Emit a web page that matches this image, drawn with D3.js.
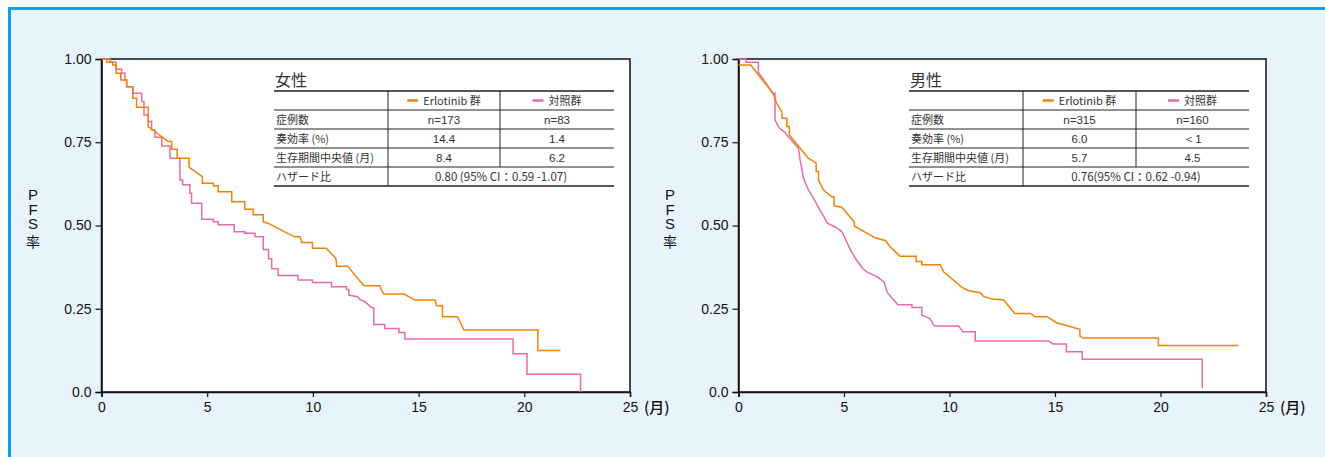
<!DOCTYPE html>
<html><head><meta charset="utf-8">
<script src="https://cdn.jsdelivr.net/npm/d3@7"></script>
<style>
html,body{margin:0;padding:0;background:#fff;}
svg{display:block;}
</style></head>
<body>
<svg id="chart" width="1325" height="457"></svg>
<script>
// ---- data (time in months, PFS rate) : Kaplan-Meier vertices ----
const femaleErlotinib = [[0,1],[0.25,1],[0.25,0.991],[0.53,0.991],[0.53,0.982],[0.69,0.982],[0.69,0.957],[0.91,0.957],[0.91,0.937],[1.19,0.937],[1.19,0.917],[1.48,0.917],[1.48,0.882],[1.66,0.882],[1.66,0.855],[2.21,0.855],[2.21,0.797],[3.16,0.752],[3.32,0.752],[3.32,0.729],[3.58,0.729],[3.58,0.702],[4.14,0.702],[4.14,0.675],[4.77,0.647],[4.77,0.627],[5.29,0.627],[5.29,0.619],[5.52,0.619],[5.52,0.601],[6.16,0.601],[6.16,0.571],[6.78,0.571],[6.78,0.549],[7.18,0.549],[7.18,0.532],[7.65,0.532],[7.65,0.511],[7.95,0.505],[8.76,0.478],[9.15,0.466],[9.39,0.466],[9.47,0.449],[9.98,0.449],[9.98,0.432],[10.63,0.432],[11.09,0.401],[11.12,0.378],[11.64,0.378],[12.41,0.319],[13.17,0.319],[13.25,0.305],[13.36,0.294],[14.32,0.294],[14.82,0.276],[15.78,0.276],[15.85,0.259],[16.13,0.259],[16.13,0.226],[16.84,0.226],[17.15,0.186],[20.64,0.186],[20.64,0.125],[21.71,0.125]];
const femaleControl = [[0,1],[0.4,1],[0.4,0.99],[0.69,0.99],[0.69,0.969],[0.95,0.969],[0.95,0.957],[1.11,0.957],[1.11,0.937],[1.19,0.937],[1.19,0.917],[1.5,0.917],[1.5,0.897],[1.9,0.897],[1.9,0.872],[2.01,0.872],[2.01,0.832],[2.21,0.832],[2.21,0.812],[2.37,0.812],[2.37,0.787],[2.53,0.787],[2.53,0.765],[2.85,0.765],[2.85,0.739],[3.24,0.739],[3.24,0.702],[3.71,0.702],[3.71,0.637],[3.84,0.637],[3.84,0.622],[4.18,0.622],[4.18,0.597],[4.26,0.597],[4.26,0.567],[4.74,0.567],[4.74,0.519],[5.29,0.519],[5.29,0.511],[5.52,0.511],[5.52,0.502],[6.28,0.502],[6.28,0.481],[6.78,0.481],[6.78,0.477],[7.26,0.477],[7.26,0.466],[7.65,0.466],[7.65,0.428],[7.9,0.428],[7.9,0.40],[8.05,0.40],[8.05,0.37],[8.35,0.37],[8.35,0.35],[9.3,0.35],[9.3,0.336],[9.98,0.336],[9.98,0.329],[10.88,0.329],[10.88,0.316],[11.59,0.316],[11.59,0.308],[11.7,0.308],[11.7,0.291],[12.1,0.286],[12.22,0.278],[12.46,0.271],[12.78,0.253],[12.88,0.253],[12.88,0.203],[13.4,0.203],[13.4,0.191],[14.07,0.191],[14.07,0.179],[14.35,0.179],[14.35,0.159],[19.47,0.159],[19.47,0.115],[20.13,0.115],[20.13,0.053],[22.66,0.053],[22.66,0.0]];
const maleErlotinib = [[0,0.982],[0.58,0.982],[1.63,0.897],[1.81,0.867],[2.05,0.842],[2.07,0.822],[2.29,0.822],[2.29,0.797],[2.41,0.797],[2.41,0.772],[3.31,0.702],[3.68,0.687],[3.68,0.662],[3.79,0.662],[3.79,0.637],[4.02,0.607],[4.42,0.586],[4.53,0.586],[4.53,0.559],[4.9,0.555],[5.48,0.511],[5.5,0.498],[6.48,0.463],[6.95,0.455],[7.19,0.436],[7.45,0.42],[7.66,0.408],[8.42,0.408],[8.42,0.392],[8.69,0.392],[8.69,0.382],[9.56,0.382],[9.72,0.361],[10.59,0.314],[10.91,0.304],[11.46,0.298],[11.6,0.288],[12.02,0.279],[12.57,0.276],[13.09,0.236],[13.83,0.236],[14.07,0.226],[14.63,0.226],[15.07,0.208],[16.18,0.188],[16.18,0.168],[16.34,0.162],[19.9,0.162],[19.9,0.14],[23.69,0.14]];
const maleControl = [[0,1],[0.35,1],[0.35,0.99],[0.94,0.99],[0.94,0.96],[1.63,0.897],[1.73,0.897],[1.73,0.817],[1.94,0.792],[2.16,0.782],[2.29,0.772],[2.84,0.732],[2.92,0.697],[3.08,0.642],[3.31,0.607],[3.52,0.586],[3.68,0.567],[3.83,0.549],[4.0,0.532],[4.21,0.507],[4.63,0.494],[4.9,0.481],[5.05,0.462],[5.26,0.432],[5.55,0.40],[5.9,0.37],[6.1,0.36],[6.6,0.345],[6.9,0.33],[7.05,0.30],[7.3,0.28],[7.55,0.262],[8.22,0.262],[8.22,0.254],[8.69,0.254],[8.69,0.231],[9.06,0.221],[9.29,0.198],[10.43,0.198],[10.64,0.181],[11.22,0.181],[11.22,0.153],[14.70,0.153],[14.91,0.144],[15.54,0.144],[15.54,0.121],[16.29,0.121],[16.29,0.098],[21.98,0.098],[21.98,0.011]];

const yTicks = [0, 0.25, 0.5, 0.75, 1];
const yTickLabels = ["0.0", "0.25", "0.50", "0.75", "1.00"];
const xTicks = [0, 5, 10, 15, 20, 25];
const xUnit = "(月)";
const yLabel = ["P", "F", "S", "率"];
const seriesNames = ["Erlotinib 群", "対照群"];
const rowLabels = ["症例数", "奏効率 (%)", "生存期間中央値 (月)", "ハザード比"];
const femaleTitle = "女性";
const femaleCells = [["n=173", "n=83"], ["14.4", "1.4"], ["8.4", "6.2"]];
const femaleHR = "0.80 (95% CI：0.59 -1.07)";
const maleTitle = "男性";
const maleCells = [["n=315", "n=160"], ["6.0", "＜1"], ["5.7", "4.5"]];
const maleHR = "0.76(95% CI：0.62 -0.94)";

// ---- styles ----
const ORANGE = "#f0820a", PINK = "#e96ba6";
const LAT = "'Liberation Sans', Arial, Helvetica, sans-serif";
const JP = "'Noto Sans CJK JP', 'Noto Sans', sans-serif";

const svg = d3.select("#chart");
// panel background with blue border (top and left)
svg.append("rect").attr("x", 9).attr("y", 8).attr("width", 1330).attr("height", 460)
  .attr("fill", "#e8f4fc");
svg.append("line").attr("x1", 8).attr("x2", 1325).attr("y1", 8.5).attr("y2", 8.5)
  .attr("stroke", "#16a0e0").attr("stroke-width", 3);
svg.append("line").attr("x1", 9.5).attr("x2", 9.5).attr("y1", 7).attr("y2", 457)
  .attr("stroke", "#16a0e0").attr("stroke-width", 3);

function panel(cfg) {
  const x = d3.scaleLinear().domain([0, 25]).range([cfg.x0, cfg.x1]);
  const y = d3.scaleLinear().domain([0, 1]).range([392, 59]);
  const g = svg.append("g");
  g.append("rect").attr("x", x(0)).attr("y", y(1)).attr("width", x(25) - x(0)).attr("height", y(0) - y(1))
    .attr("fill", "#fff").attr("stroke", "#111").attr("stroke-width", 1.5);

  // axes
  const ya = g.append("g").attr("transform", `translate(${x(0)},0)`)
    .call(d3.axisLeft(y).tickValues(yTicks).tickSize(6).tickPadding(4)
      .tickFormat((d, i) => yTickLabels[i]));
  ya.select(".domain").attr("stroke", "#111").attr("stroke-width", 1.5);
  ya.selectAll(".tick line").attr("stroke", "#111").attr("stroke-width", 1.2);
  ya.selectAll(".tick text").attr("font-family", LAT).attr("font-size", 14).attr("fill", "#111");
  const xa = g.append("g").attr("transform", `translate(0,${y(0)})`)
    .call(d3.axisBottom(x).tickValues(xTicks).tickSize(5).tickPadding(5).tickFormat(d3.format("d")));
  xa.select(".domain").attr("stroke", "#111").attr("stroke-width", 1.5);
  xa.selectAll(".tick line").attr("stroke", "#111").attr("stroke-width", 1.2);
  xa.selectAll(".tick text").attr("font-family", LAT).attr("font-size", 14).attr("fill", "#111");

  g.append("text").attr("x", x(25) + 14).attr("y", y(0) + 21).attr("font-family", JP)
    .attr("font-size", 15).attr("font-weight", 500).attr("fill", "#111").text(xUnit);

  // y label stacked
  yLabel.forEach((c, i) => {
    g.append("text").attr("x", cfg.ylabX).attr("y", 200 + i * 14.5 + (c === "率" ? 3 : 0))
      .attr("text-anchor", "middle").attr("fill", "#111")
      .attr("font-size", c === "率" ? 14 : 15)
      .attr("font-family", c === "率" ? JP : LAT).text(c);
  });

  // curves
  const line = d3.line().x(d => x(d[0])).y(d => y(d[1]));
  [[cfg.ctrl, PINK], [cfg.erl, ORANGE]].forEach(([data, col]) => {
    g.append("path").datum(data).attr("d", line).attr("fill", "none")
      .attr("stroke", col).attr("stroke-width", 1.5);
  });

  // table
  const t = cfg.table;
  const tg = g.append("g").attr("font-family", JP).attr("fill", "#333");
  tg.append("text").attr("x", t.x0 + 1).attr("y", 86).attr("font-size", 16).attr("fill", "#333").text(cfg.title);
  const rowsY = [91, 110, 129, 148, 167, 186];
  rowsY.forEach((ry, i) => {
    tg.append("line").attr("x1", t.x0).attr("x2", t.x1).attr("y1", ry).attr("y2", ry)
      .attr("stroke", i === 0 ? "#555" : "#222").attr("stroke-width", i === 0 ? 2.2 : (i === 5 ? 1.5 : 1));
  });
  tg.append("line").attr("x1", t.c1).attr("x2", t.c1).attr("y1", 91).attr("y2", 186).attr("stroke", "#222");
  tg.append("line").attr("x1", t.c2).attr("x2", t.c2).attr("y1", 91).attr("y2", 167).attr("stroke", "#222");
  const m1 = (t.c1 + t.c2) / 2, m2 = (t.c2 + t.x1) / 2;
  // header with legend dashes
  [[m1, ORANGE, seriesNames[0]], [m2, PINK, seriesNames[1]]].forEach(([cx, col, name]) => {
    const tmp = tg.append("text").attr("font-size", 11).text(name);
    const w = tmp.node().getComputedTextLength();
    tmp.remove();
    const total = 11 + 5 + w;
    const sx = cx - total / 2;
    tg.append("line").attr("x1", sx).attr("x2", sx + 11).attr("y1", 100.5).attr("y2", 100.5)
      .attr("stroke", col).attr("stroke-width", 2.5);
    tg.append("text").attr("x", sx + 16).attr("y", 104.5).attr("font-size", 11).text(name);
  });
  rowLabels.forEach((lab, i) => {
    tg.append("text").attr("x", t.x0 + 2).attr("y", 123.5 + i * 19).attr("font-size", 11).text(lab);
  });
  cfg.cells.forEach((row, i) => {
    [m1, m2].forEach((cx, j) => {
      tg.append("text").attr("x", cx).attr("y", 123.5 + i * 19).attr("text-anchor", "middle")
        .attr("font-size", 11.5).attr("font-family", LAT).text(row[j]);
    });
  });
  tg.append("text").attr("x", (t.c1 + t.x1) / 2).attr("y", 180.5).attr("text-anchor", "middle")
    .attr("font-size", 11.5).text(cfg.hr);
}

panel({x0: 101.5, x1: 630, ylabX: 33, erl: femaleErlotinib, ctrl: femaleControl,
  title: femaleTitle, cells: femaleCells, hr: femaleHR,
  table: {x0: 274, x1: 614, c1: 388, c2: 500}});
panel({x0: 738.5, x1: 1266, ylabX: 670, erl: maleErlotinib, ctrl: maleControl,
  title: maleTitle, cells: maleCells, hr: maleHR,
  table: {x0: 909, x1: 1249, c1: 1023, c2: 1136}});
</script>
</body></html>
